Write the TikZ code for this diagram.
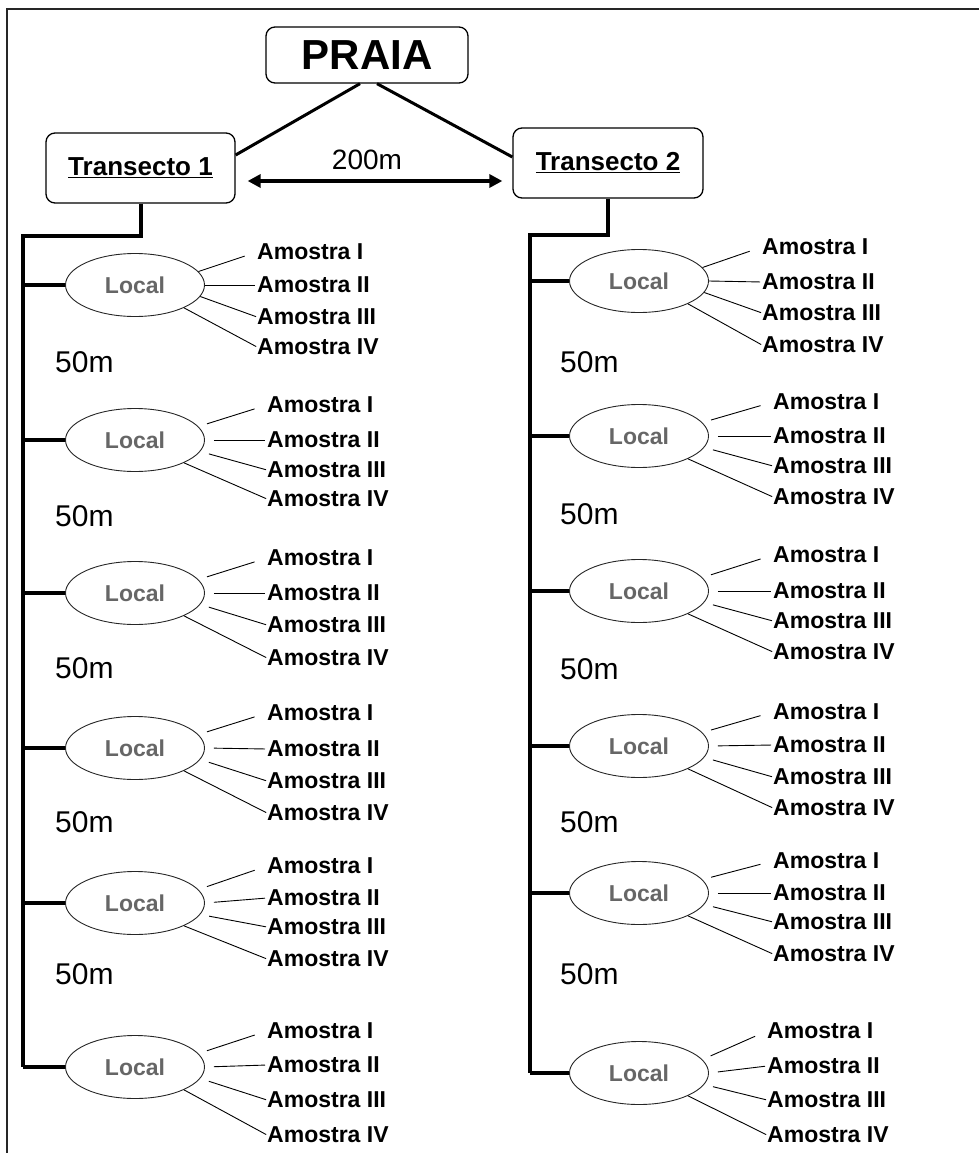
\documentclass[tikz,border=0pt]{standalone}
\usepackage{fontspec}
\setmainfont{Liberation Sans}
\usetikzlibrary{shapes.geometric,arrows.meta}
\begin{document}
\begin{tikzpicture}[x=1pt,y=-1pt,
  box/.style={draw, line width=1.3pt, rounded corners=9pt, inner sep=0pt},
  link/.style={line width=3pt},
  trunk/.style={line width=4pt},
  loc/.style={ellipse, draw=black!85, line width=0.9pt, minimum width=139pt, minimum height=63pt, inner sep=0pt, text=black!60, font={\fontsize{23}{23}\selectfont\bfseries}},
  am/.style={anchor=west, inner sep=0pt, font={\fontsize{23}{23}\selectfont\bfseries}},
  dist/.style={anchor=west, inner sep=0pt, font={\fontsize{30}{30}\selectfont}},
  thin/.style={line width=0.9pt}]
\useasboundingbox (0,0) rectangle (979,1153);
\draw[line width=2.5pt, black!85] (7,1153) -- (7,9) -- (979,9);

\node[box, minimum width=202pt, minimum height=56pt, font={\fontsize{42}{42}\selectfont\bfseries}] (PR) at (367,55) {PRAIA};
\node[box, minimum width=189pt, minimum height=70pt, font={\fontsize{26}{26}\selectfont\bfseries}] (T1) at (140.5,168) {\underline{Transecto 1}};
\node[box, minimum width=190pt, minimum height=70pt, font={\fontsize{26}{26}\selectfont\bfseries}] (T2) at (608,163) {\underline{Transecto 2}};

\draw[link] ([xshift=-7pt]PR.south) -- ([yshift=13pt]T1.east);
\draw[link] ([xshift=10pt]PR.south) -- ([yshift=6pt]T2.west);
\draw[line width=4pt, {Triangle[length=13pt,width=13pt]}-{Triangle[length=13pt,width=13pt]}, shorten <=12pt, shorten >=10pt] ([yshift=-13pt]T1.east) -- ([yshift=-18pt]T2.west);
\node[inner sep=0pt, font={\fontsize{28}{28}\selectfont}] (d200) at (367,160) {200m};

\coordinate (lt) at (23,236);
\coordinate (rt) at (530,235);

\foreach \n/\t/\cx/\cy/\lx/\ya/\yb/\yc/\yd/\g in {
  L1/lt/135/285/257/252/285/317/347/0,
  L2/lt/135/440/267/405/440/470/499/9,
  L3/lt/135/593/267/558/593/625/658/9,
  L4/lt/135/748/267/713/749/781/813/9,
  L5/lt/135/903/267/866/898/927/959/9,
  L6/lt/135/1067/267/1031/1065/1100/1135/9,
  R1/rt/639/281/762/247/282/313/345/0,
  R2/rt/639/436/773/402/436/466/497/9,
  R3/rt/639/591/773/555/591/621/652/9,
  R4/rt/639/746/773/712/745/777/808/9,
  R5/rt/639/893/773/861/893/922/954/9,
  R6/rt/639/1073/767/1031/1066/1100/1135/9}{
  \node[loc] (E\n) at (\cx,\cy) {Local};
  \node[am] (\n a) at (\lx,\ya) {Amostra I};
  \node[am] (\n b) at (\lx,\yb) {Amostra II};
  \node[am] (\n c) at (\lx,\yc) {Amostra III};
  \node[am] (\n d) at (\lx,\yd) {Amostra IV};
  \draw[thin, shorten <=\g pt, shorten >=13pt] (E\n.12) -- (\n a.west);
  \draw[thin, shorten <=\g pt, shorten >=2pt] (E\n.east) -- (\n b.west);
  \draw[thin, shorten <=\g pt, shorten >=1pt] (E\n.-10) -- (\n c.west);
  \draw[thin, shorten >=1pt] (E\n.-25) -- (\n d.west);
  \draw[trunk] (\t |- E\n.west) -- (E\n.west);
}

\draw[trunk] (T1.south) |- (lt) -- (lt |- EL6.west);
\draw[trunk] (T2.south) |- (rt) -- (rt |- ER6.west);

\foreach \n/\x/\y in {L1/55/362, L2/55/516, L3/55/668, L4/55/822, L5/55/974,
  R1/560/362, R2/560/514, R3/560/669, R4/560/822, R5/560/974}{
  \node[dist] (m\n) at (\x,\y) {50m};
}
\end{tikzpicture}
\end{document}
